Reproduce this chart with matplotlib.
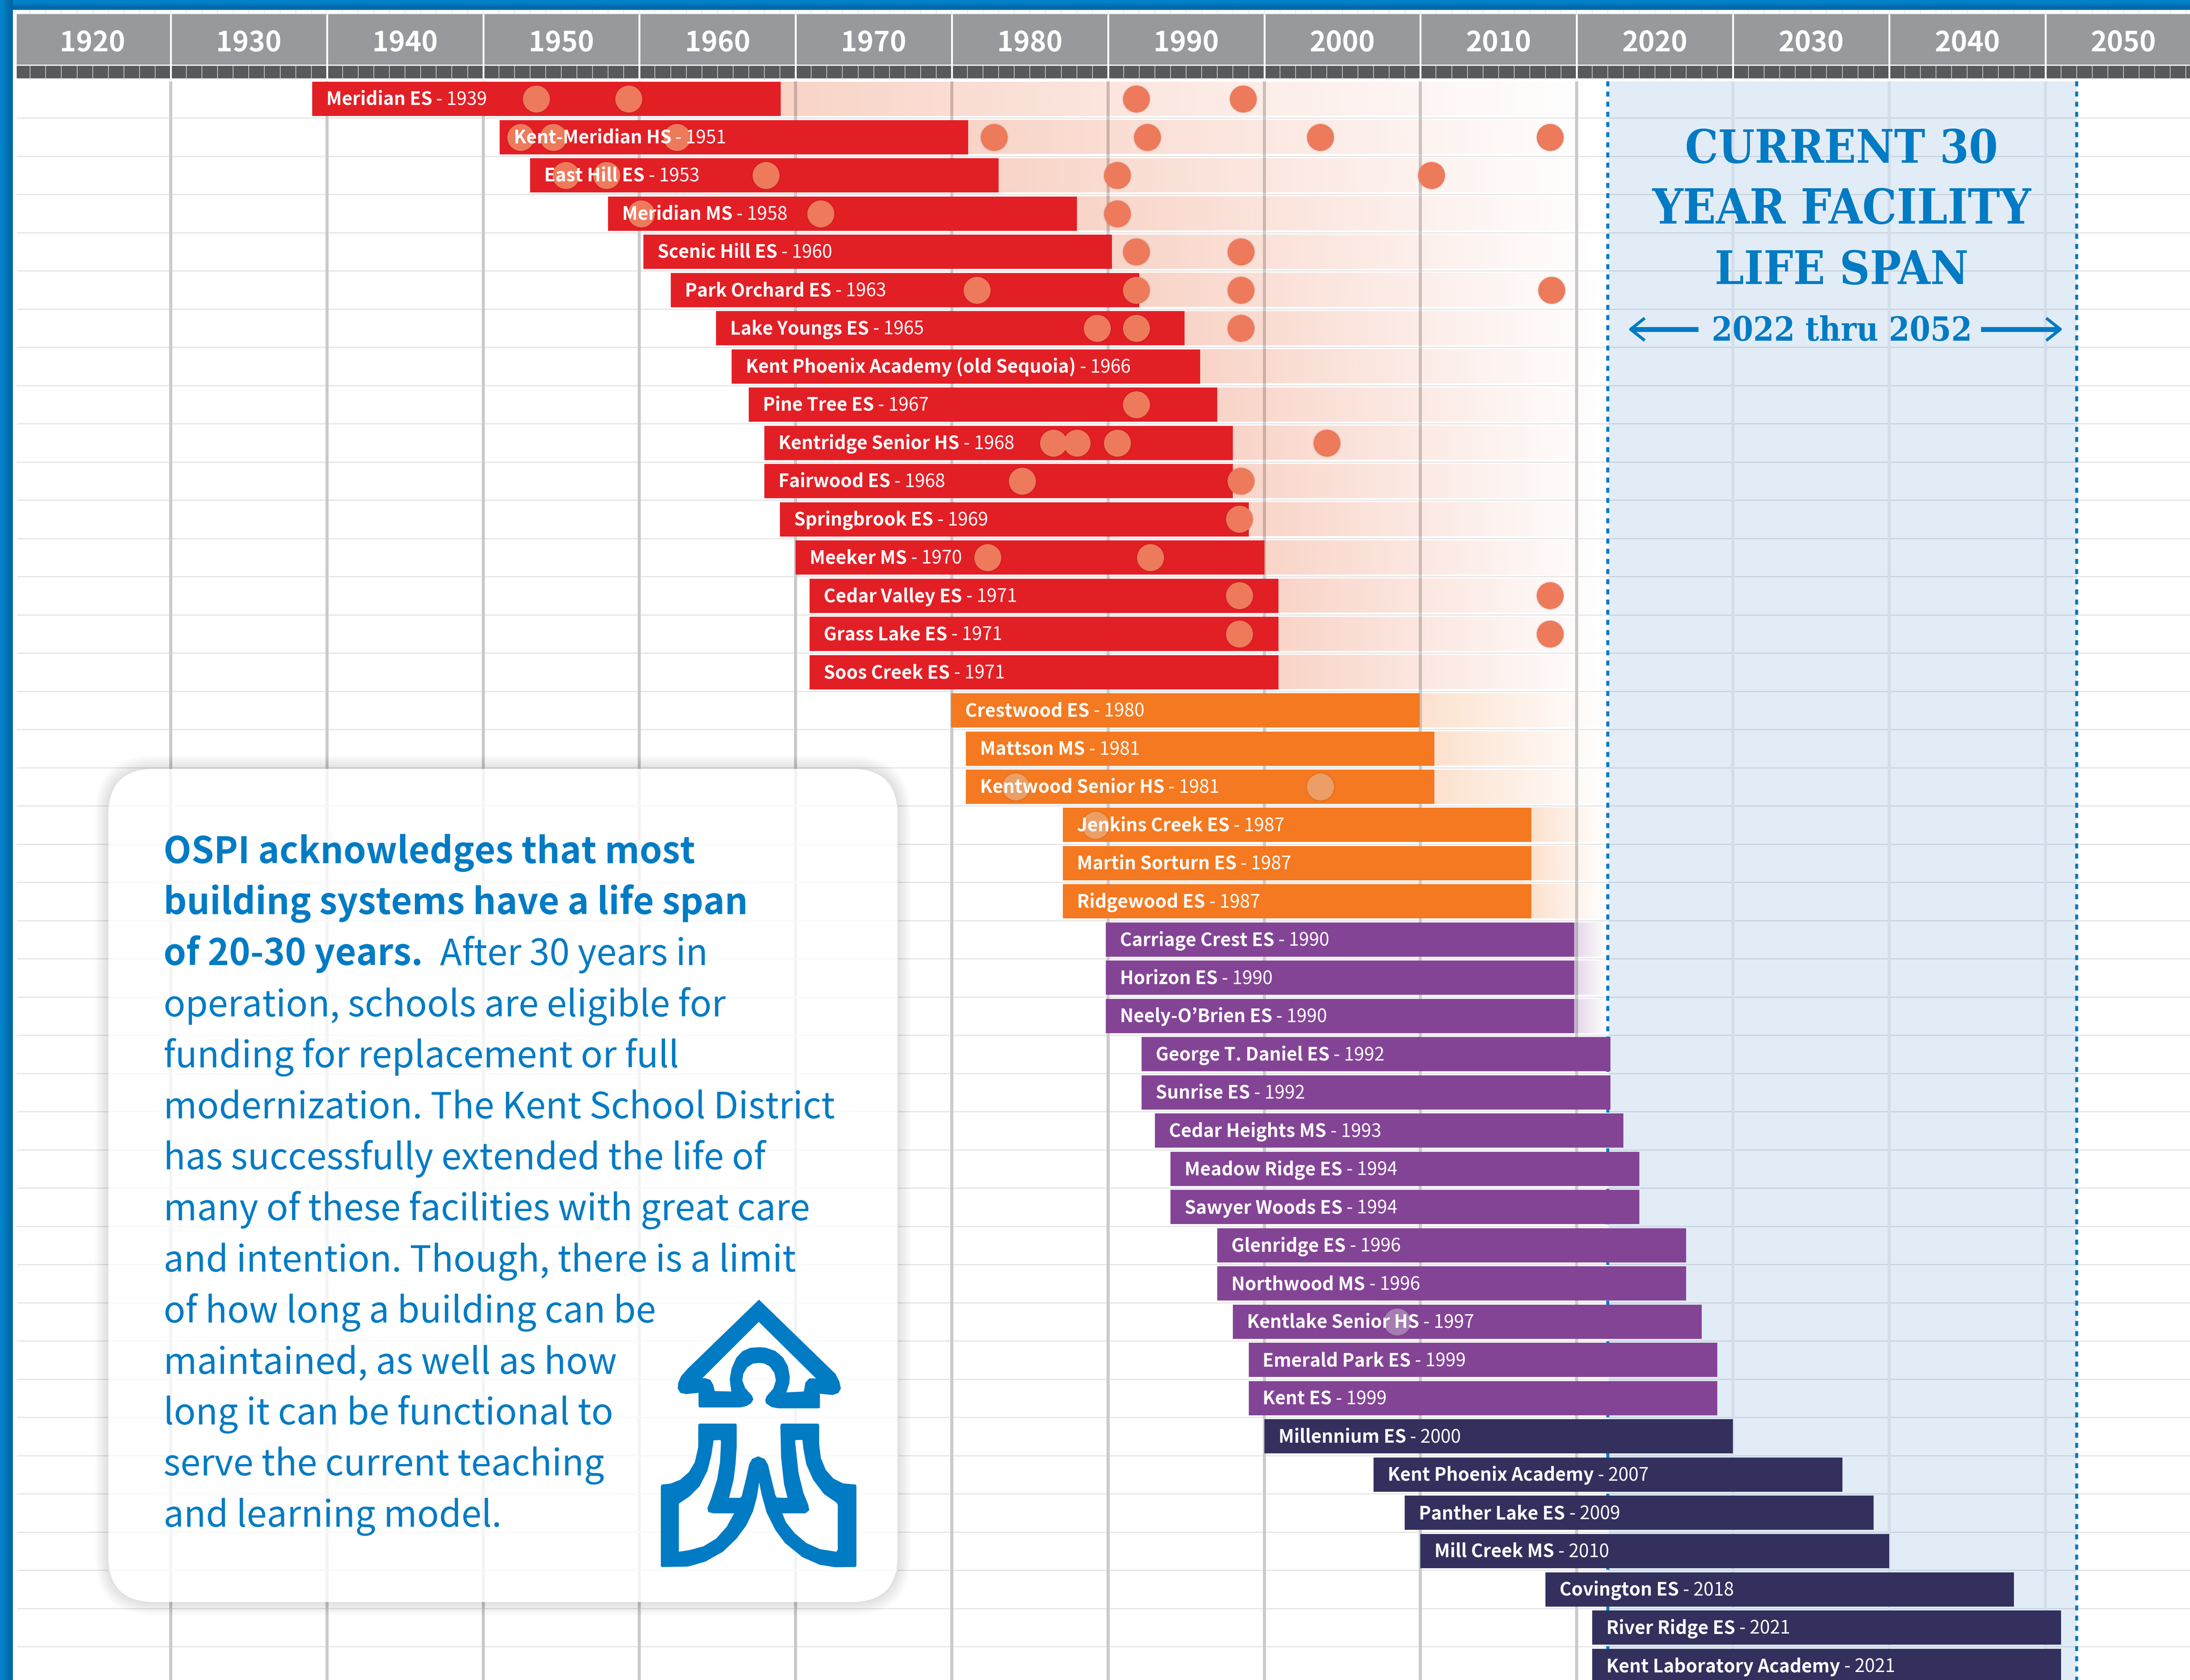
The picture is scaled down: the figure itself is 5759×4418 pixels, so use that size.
#!/usr/bin/env python3
"""Kent School District facility age timeline, rebuilt with matplotlib."""

import numpy as np
import matplotlib
matplotlib.use("Agg")
import matplotlib.pyplot as plt
from matplotlib.patches import FancyBboxPatch, Polygon

plt.rcParams["font.family"] = ["Noto Sans CJK JP", "DejaVu Sans"]

W, H = 5759, 4418
DPI = 300
PX = 72 / DPI  # one output pixel in points

# ---- data ----
schools = [
    "Meridian ES", "Kent-Meridian HS", "East Hill ES", "Meridian MS", "Scenic Hill ES",
    "Park Orchard ES", "Lake Youngs ES", "Kent Phoenix Academy (old Sequoia)", "Pine Tree ES",
    "Kentridge Senior HS", "Fairwood ES", "Springbrook ES", "Meeker MS", "Cedar Valley ES",
    "Grass Lake ES", "Soos Creek ES", "Crestwood ES", "Mattson MS", "Kentwood Senior HS",
    "Jenkins Creek ES", "Martin Sorturn ES", "Ridgewood ES", "Carriage Crest ES", "Horizon ES",
    "Neely-O\u2019Brien ES", "George T. Daniel ES", "Sunrise ES", "Cedar Heights MS",
    "Meadow Ridge ES", "Sawyer Woods ES", "Glenridge ES", "Northwood MS", "Kentlake Senior HS",
    "Emerald Park ES", "Kent ES", "Millennium ES", "Kent Phoenix Academy", "Panther Lake ES",
    "Mill Creek MS", "Covington ES", "River Ridge ES", "Kent Laboratory Academy",
]
built = [
    1939, 1951, 1953, 1958, 1960, 1963, 1965, 1966, 1967, 1968, 1968, 1969, 1970, 1971,
    1971, 1971, 1980, 1981, 1981, 1987, 1987, 1987, 1990, 1990, 1990, 1992, 1992, 1993,
    1994, 1994, 1996, 1996, 1997, 1999, 1999, 2000, 2007, 2009, 2010, 2018, 2021, 2021,
]
# where each bar really starts on the time axis, not always the labelled year
bar_start = [
    1939.05, 1951.05, 1953, 1958, 1960.25, 1962, 1964.9, 1965.9, 1967, 1968, 1968, 1969, 1970,
    1970.9, 1970.9, 1970.9, 1979.95, 1980.9, 1980.9, 1987.1, 1987.1, 1987.1, 1989.85, 1989.85,
    1989.85, 1992.15, 1992.15, 1993, 1994, 1994, 1997, 1997, 1998, 1999, 1999, 2000, 2007, 2009,
    2010, 2018, 2021, 2021,
]
LIFE = 30

# upgrade dots: row index -> years
upgrades = {
    0: [1953.4, 1959.3, 1991.8, 1998.65],
    1: [1952.4, 1954.5, 1962.4, 1982.7, 1992.5, 2003.6, 2018.3],
    2: [1955.3, 1957.9, 1968.1, 1990.6, 2010.7],
    3: [1960.1, 1971.6, 1990.6],
    4: [1991.8, 1998.5],
    5: [1981.6, 1991.8, 1998.5, 2018.4],
    6: [1989.3, 1991.8, 1998.5],
    8: [1991.8],
    9: [1986.5, 1988.0, 1990.6, 2004.0],
    10: [1984.5, 1998.5],
    11: [1998.4],
    12: [1982.3, 1992.7],
    13: [1998.4, 2018.3],
    14: [1998.4, 2018.3],
    18: [1984.1, 2003.6],
    19: [1989.2],
    32: [2008.5],
}

header_decades = list(range(1920, 2060, 10))
grid_decades = list(range(1930, 2060, 10))
span_start, span_end = 2022, 2052

paragraph = [
    "OSPI acknowledges that most",
    "building systems have a life span",
    "of 20-30 years.",
    "operation, schools are eligible for",
    "funding for replacement or full",
    "modernization. The Kent School District",
    "has successfully extended the life of",
    "many of these facilities with great care",
    "and intention. Though, there is a limit",
    "of how long a building can be",
    "maintained, as well as how",
    "long it can be functional to",
    "serve the current teaching",
    "and learning model.",
]
para_tail = "After 30 years in"
headline = ["CURRENT 30", "YEAR FACILITY", "LIFE SPAN"]
span_label = "2022 thru 2052"

# ---- colours ----
RED, ORANGE, PURPLE, NAVY = "#e31f26", "#f47920", "#844496", "#33305e"
RED_FADE = "#e43c00"
BLUE = "#007bc4"
GRID, GRID_SPAN = "#c9cacc", "#d3deea"
HLINE, HLINE_SPAN = "#e5e5e5", "#c6d3e0"


def bar_colour(year):
    if year < 1980:
        return RED
    if year < 1990:
        return ORANGE
    if year < 2000:
        return PURPLE
    return NAVY


# ---- scales: year 1930 sits at px 449, one year is 41.08 px, one row 100.5 px ----
YEAR_PX = 41.08
ROW_PX = 100.5
ROW0 = 260


def row_at(py):
    return (py - ROW0) / ROW_PX


fig = plt.figure(figsize=(W / DPI, H / DPI), dpi=DPI, facecolor="white")
ax = fig.add_axes([0, 0, 1, 1])
ax.set_autoscale_on(False)
ax.set_xlim(1930 - 449 / YEAR_PX, 1930 + (W - 449) / YEAR_PX)
ax.set_ylim(row_at(H), row_at(0))
ax.axis("off")

# pixel overlay for the callout, the logo and the frame
ov = fig.add_axes([0, 0, 1, 1], zorder=5)
ov.set_autoscale_on(False)
ov.set_xlim(0, W)
ov.set_ylim(H, 0)
ov.axis("off")

n_rows = len(schools)
top = row_at(214)
bottom = row_at(H)

# ---- grid ----
ax.axvspan(span_start + 0.05, span_end, ymin=0, ymax=1 - 214 / H, color="#e2ecf6", lw=0, zorder=1)
rows_mid = [i + 0.5 for i in range(n_rows - 1)]
ax.hlines(rows_mid, 1920.15, 2062, color=HLINE, lw=3 * PX, zorder=1.5)
ax.hlines(rows_mid, span_start + 0.05, span_end, color=HLINE_SPAN, lw=3 * PX, zorder=1.6)
for d in grid_decades:
    ax.vlines(d, top, bottom, color=GRID_SPAN if d > span_start else GRID, lw=8 * PX, zorder=1.7)
for d in (span_start, span_end):
    ax.vlines(d, top, bottom, color=BLUE, lw=8 * PX, linestyles=(0, (1.63, 1.71)), zorder=2)

# ---- header ----
h_top, h_mid, h_dark, h_low = row_at(37), row_at(170), row_at(173), row_at(206)
for d in header_decades:
    left = max(d, 1920.15)
    ax.fill_between([left, d + 10], h_top, h_mid, color="#98999c", lw=0, zorder=2)
    ax.fill_between([left, d + 10], h_dark, h_low, color="#58595b", lw=0, zorder=2)
    ax.text(d + 5, row_at(135), str(d), color="white", fontsize=17.5, fontweight="bold",
            ha="center", va="baseline", zorder=3)
all_years = np.arange(1921, 2062)
ax.vlines(all_years, h_dark, row_at(211), color="#e0e1e2", lw=1.6 * PX, zorder=2.5)
ax.vlines(all_years, row_at(26), h_top, color="#d9e4ec", lw=1.6 * PX, zorder=2.5)
ax.vlines(header_decades[1:], h_top, h_low, color="white", lw=5 * PX, zorder=2.6)

# ---- bars ----
renderer = fig.canvas.get_renderer()
BAR_H = 90 / ROW_PX
for i, (name, year, start) in enumerate(zip(schools, built, bar_start)):
    col = bar_colour(year)
    end = start + LIFE
    ax.barh(i, LIFE, left=start, height=BAR_H, color=col, lw=0, zorder=4)
    if end < span_start:
        grad = np.zeros((1, 64, 4))
        grad[..., :3] = matplotlib.colors.to_rgb(RED_FADE if col == RED else col)
        grad[..., 3] = np.linspace(0.22, 0, 64)
        ax.imshow(grad, extent=(end, span_start, i + BAR_H / 2, i - BAR_H / 2), aspect="auto",
                  interpolation="bilinear", zorder=3)
    t = ax.text(start + 0.9, i + 0.165, name, color="white", fontsize=11.5, fontweight="bold",
                va="baseline", zorder=7)
    x1 = t.get_window_extent(renderer).x1
    ax.text(ax.transData.inverted().transform((x1, 0))[0], i + 0.165, " - %d" % year, color="white",
            fontsize=11.5, va="baseline", zorder=7)

# ---- dots ----
for row, years in upgrades.items():
    on_red = bar_colour(built[row]) == RED
    ax.scatter(years, [row] * len(years), s=350, color="black", alpha=0.03, lw=0, zorder=5)
    ax.scatter(years, [row] * len(years), s=315, color="black", alpha=0.04, lw=0, zorder=5.1)
    if on_red:
        ax.scatter(years, [row] * len(years), s=290, color="#ee7a5c", lw=0, zorder=5.2)
    else:
        ax.scatter(years, [row] * len(years), s=290, color="white", alpha=0.33, lw=0, zorder=5.2)

# ---- callout panel ----
px0, py0, px1, py1 = 285, 2022, 2360, 4213
RAD = 120
for grow in range(70, 0, -7):
    ov.add_patch(FancyBboxPatch((px0 - grow / 2, py0 - grow / 2), px1 - px0 + grow, py1 - py0 + grow,
                                boxstyle="round,pad=0,rounding_size=%d" % (RAD + grow / 2),
                                fc="black", ec="none", alpha=0.013, zorder=1))
ov.add_patch(FancyBboxPatch((px0, py0), px1 - px0, py1 - py0, boxstyle="round,pad=0,rounding_size=%d" % RAD,
                            fc="white", ec="none", zorder=2))
# the grid shows faintly through the panel
for d in grid_decades:
    gx = 449 + (d - 1930) * YEAR_PX
    if px0 < gx < px1:
        ov.vlines(gx, py0, py1, color="#f4f4f4", lw=8 * PX, zorder=2.1)
for m in rows_mid:
    gy = ROW0 + m * ROW_PX
    if py0 < gy < py1:
        ov.hlines(gy, px0, px1, color="#f8f8f8", lw=3 * PX, zorder=2.1)

PARA_X, PARA_Y, PARA_STEP = 430, 2270, 134.2
PARA_SIZE = 22.8
for i, line in enumerate(paragraph):
    ov.text(PARA_X, PARA_Y + i * PARA_STEP, line, color=BLUE, fontsize=PARA_SIZE,
            fontweight="bold" if i < 3 else "normal", va="baseline", zorder=3)
ov.text(1157, PARA_Y + 2 * PARA_STEP, para_tail, color=BLUE, fontsize=PARA_SIZE, va="baseline", zorder=3)


# ---- logo ----
def logo(points, colour):
    xy = [(1600 + x / 1.96, 3300 + y / 1.742) for x, y in points]
    ov.add_patch(Polygon(xy, closed=True, fc=colour, ec="none", zorder=4))


logo([(776, 205), (1170, 545), (1190, 580), (1198, 612), (1185, 633), (1155, 642), (1090, 636),
      (1090, 700), (1085, 703), (875, 703), (840, 697), (812, 680), (808, 665), (815, 648),
      (850, 612), (863, 575), (855, 540), (830, 510), (800, 497), (776, 495), (745, 498),
      (715, 515), (695, 545), (690, 575), (705, 610), (740, 645), (747, 662), (735, 680),
      (710, 693), (680, 699), (470, 699), (465, 695), (464, 632), (400, 638), (370, 632),
      (357, 612), (360, 585), (375, 555), (410, 520)], BLUE)
logo([(775, 307), (1070, 566), (1035, 566), (1015, 585), (1007, 626), (917, 630), (932, 590),
      (935, 560), (925, 510), (900, 470), (860, 440), (810, 425), (776, 423), (730, 426),
      (690, 442), (660, 470), (635, 520), (625, 570), (633, 626), (548, 624), (540, 595),
      (525, 572), (500, 565), (484, 565)], "white")
logo([(468, 773), (658, 773), (661, 780), (661, 880), (655, 960), (645, 1030), (622, 1113),
      (680, 1113), (687, 1105), (712, 1015), (725, 960), (740, 935), (772, 923), (805, 935),
      (822, 960), (860, 1100), (868, 1112), (923, 1113), (905, 1050), (890, 930), (886, 780),
      (892, 773), (1082, 773), (1086, 780), (1086, 870), (1095, 930), (1120, 985), (1160, 1025),
      (1210, 1047), (1275, 1052), (1278, 1060), (1278, 1425), (1272, 1430), (1170, 1431),
      (1090, 1420), (1000, 1385), (910, 1320), (860, 1260), (815, 1180), (790, 1100), (777, 1042),
      (765, 1110), (745, 1175), (710, 1240), (660, 1300), (590, 1360), (500, 1405), (410, 1428),
      (275, 1430), (270, 1425), (270, 1060), (275, 1052), (320, 1048), (370, 1030), (415, 995),
      (445, 950), (463, 880), (463, 780)], BLUE)
logo([(542, 850), (578, 848), (580, 860), (575, 950), (560, 1030), (530, 1115), (510, 1160),
      (515, 1178), (540, 1184), (648, 1184), (610, 1245), (555, 1300), (490, 1335), (420, 1352),
      (363, 1360), (363, 1140), (420, 1105), (470, 1060), (510, 990), (530, 920)], "white")
logo([(965, 848), (1000, 848), (1005, 890), (1020, 960), (1055, 1030), (1110, 1095), (1175, 1135),
      (1182, 1145), (1182, 1350), (1175, 1360), (1090, 1348), (1020, 1320), (960, 1275), (915, 1225),
      (896, 1184), (1015, 1184), (1035, 1170), (1030, 1145), (1005, 1090), (980, 1000), (970, 920),
      (962, 855)], "white")

# ---- span title ----
CX = 4843
for line, base, size in zip(headline, (428, 588, 747), (29.3, 30.4, 29.3)):
    ov.text(CX, base, line, color=BLUE, fontsize=size, family="DejaVu Serif", stretch="condensed",
            fontweight="bold", ha="center", va="baseline", zorder=3)
ov.text(CX, 896, span_label, color=BLUE, fontsize=21, family="DejaVu Serif", stretch="condensed",
        fontweight="bold", ha="center", va="baseline", zorder=3)
ARROW_Y = 866
ov.plot([4290, 4466], [ARROW_Y, ARROW_Y], color=BLUE, lw=13 * PX, solid_capstyle="butt", zorder=3)
ov.plot([5209, 5416], [ARROW_Y, ARROW_Y], color=BLUE, lw=13 * PX, solid_capstyle="butt", zorder=3)
ov.plot([4322, 4288, 4322], [ARROW_Y - 27, ARROW_Y, ARROW_Y + 27], color=BLUE, lw=8 * PX, zorder=3)
ov.plot([5384, 5418, 5384], [ARROW_Y - 27, ARROW_Y, ARROW_Y + 27], color=BLUE, lw=8 * PX, zorder=3)

# ---- blue frame, top and left ----
band = np.array([[0, 130, 200], [0, 104, 166]], dtype=float) / 255
ov.imshow(band[:, None, :], extent=(0, W, 26, 0), aspect="auto", interpolation="bilinear", zorder=6)
ov.imshow(band[None, :, :], extent=(0, 34, H, 0), aspect="auto", interpolation="bilinear", zorder=6)

fig.savefig("out.png", dpi=DPI)
plt.close(fig)
